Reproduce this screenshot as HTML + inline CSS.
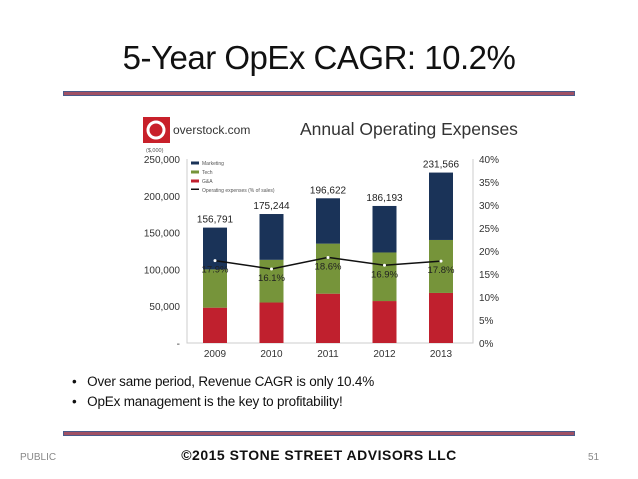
<!DOCTYPE html>
<html><head><meta charset="utf-8"><style>
body{margin:0;width:638px;height:479px;background:#fff;position:relative;overflow:hidden;font-family:"Liberation Sans",sans-serif}
.abs{position:absolute}
.bar{position:absolute;left:63px;width:512px;height:5px;background:#a05064;border:1px solid #4a5a8a;box-sizing:border-box}
</style></head><body>
<div class="abs" style="left:0;width:638px;top:39px;text-align:center;font-size:33px;letter-spacing:-0.5px;color:#111">5-Year OpEx CAGR: 10.2%</div>
<div class="bar" style="top:91px"></div>
<svg class="abs" style="left:0;top:0" width="638" height="479" id="chart">
<g>
<rect x="143" y="117" width="27" height="26" fill="#c8202a"/>
<circle cx="156" cy="130" r="8" fill="none" stroke="#fff" stroke-width="3"/>
<text x="173" y="134" font-size="12" fill="#333">overstock.com</text>
</g>
<text x="300" y="135" font-size="17.5" fill="#333">Annual Operating Expenses</text>
<text x="146" y="152" font-size="5.5" fill="#555">($,000)</text>
</svg>
<div class="abs" style="left:72px;top:374px;font-size:13.5px;letter-spacing:-0.2px;color:#111">•&nbsp;&nbsp;&nbsp;Over same period, Revenue CAGR is only 10.4%</div>
<div class="abs" style="left:72px;top:394px;font-size:13.5px;letter-spacing:-0.2px;color:#111">•&nbsp;&nbsp;&nbsp;OpEx management is the key to profitability!</div>
<div class="bar" style="top:431px"></div>
<div class="abs" style="left:20px;top:452px;font-size:10px;color:#888">PUBLIC</div>
<div class="abs" style="left:0;width:638px;top:447px;text-align:center;font-size:14px;font-weight:bold;color:#111;letter-spacing:0.5px">©2015 STONE STREET ADVISORS LLC</div>
<div class="abs" style="left:588px;top:452px;font-size:10px;color:#888">51</div>
<script>
const years=['2009','2010','2011','2012','2013'];
const gna=[48000,55000,67000,57000,68000];
const tech=[52000,58000,68000,66000,72000];
const totals=[156791,175244,196622,186193,231566];
const pct=[17.9,16.1,18.6,16.9,17.8];
const leftTicks=[0,50000,100000,150000,200000,250000];
const rightTicks=[0,5,10,15,20,25,30,35,40];
const svg=document.getElementById('chart');
const NS='http://www.w3.org/2000/svg';
const x0=187,x1=473,y0=343,y1=159;
const yL=v=>y0-(v/250000)*(y0-y1);
const yR=v=>y0-(v/40)*(y0-y1);
const xC=i=>215+i*56.5;
function mk(t,a){const e=document.createElementNS(NS,t);for(const k in a)e.setAttribute(k,a[k]);svg.appendChild(e);return e;}
const ax=mk('path',{d:`M${x0} ${y1}V${y0}H${x1}V${y1}`,stroke:'#ccc',fill:'none'});


leftTicks.forEach(v=>{const t=mk('text',{x:180,y:yL(v)+4,'font-size':10,'text-anchor':'end',fill:'#333'});t.textContent=v===0?'-':v.toLocaleString('en-US');

});
rightTicks.forEach(v=>{const t=mk('text',{x:479,y:yR(v)+4,'font-size':10,fill:'#333'});t.textContent=v+'%';

});
const w=24;
years.forEach((yr,i)=>{const cx=xC(i);
const r1=mk('rect',{x:cx-w/2,y:yL(gna[i]),width:w,height:y0-yL(gna[i]),fill:'#c0202e'});


const r2=mk('rect',{x:cx-w/2,y:yL(gna[i]+tech[i]),width:w,height:yL(gna[i])-yL(gna[i]+tech[i]),fill:'#76943a'});


const r3=mk('rect',{x:cx-w/2,y:yL(totals[i]),width:w,height:yL(gna[i]+tech[i])-yL(totals[i]),fill:'#1a3358'});


const tl=mk('text',{x:cx,y:yL(totals[i])-5,'font-size':10,'text-anchor':'middle',fill:'#222'});tl.textContent=totals[i].toLocaleString('en-US');


const yt=mk('text',{x:cx,y:357,'font-size':10,'text-anchor':'middle',fill:'#333'});yt.textContent=yr;


const pl=mk('text',{x:cx,y:yR(pct[i])+12,'font-size':9.5,'text-anchor':'middle',fill:'#222'});pl.textContent=pct[i].toFixed(1)+'%';


});
const ln=mk('polyline',{points:pct.map((p,i)=>xC(i)+','+yR(p)).join(' '),stroke:'#111','stroke-width':1.5,fill:'none'});


pct.forEach((p,i)=>{const c=mk('circle',{cx:xC(i),cy:yR(p),r:1.5,fill:'#fff'});

});
const leg=[['#1a3358','Marketing'],['#76943a','Tech'],['#c0202e','G&A'],['#111','Operating expenses (% of sales)']];
leg.forEach((l,i)=>{const y=163+i*9;
const r=mk('rect',{x:191,y:y-1.5,width:8,height:i==3?1.5:3,fill:l[0]});


const t=mk('text',{x:202,y:y+2,'font-size':5,fill:'#555'});t.textContent=l[1];

});
</script>
</body></html>
